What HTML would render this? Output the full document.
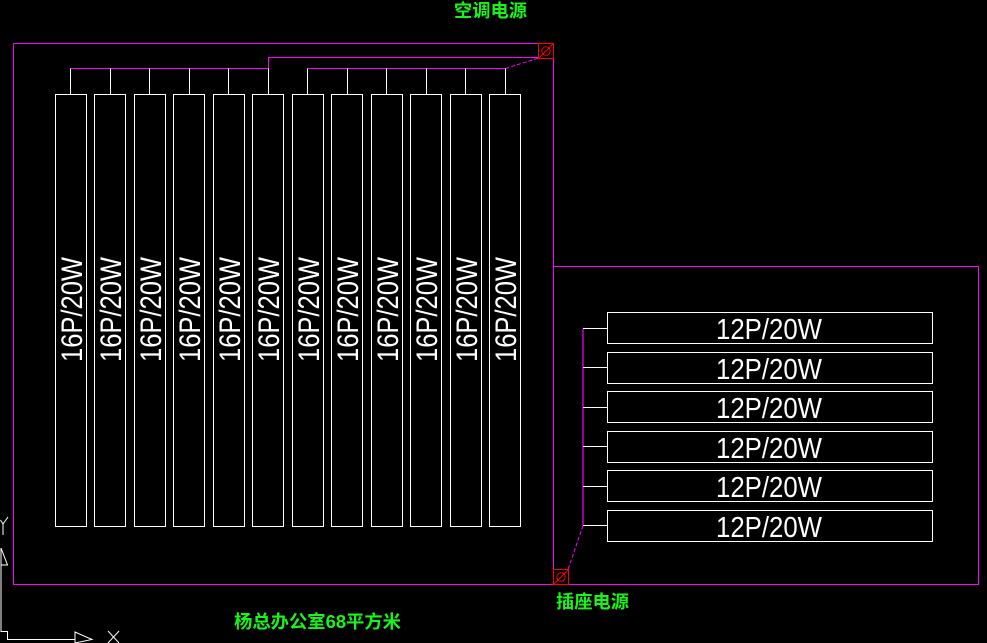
<!DOCTYPE html>
<html><head><meta charset="utf-8"><style>
html,body{margin:0;padding:0;background:#000;width:987px;height:643px;overflow:hidden}
svg{display:block}
</style></head><body>
<svg width="987" height="643" viewBox="0 0 987 643" xmlns="http://www.w3.org/2000/svg">
<rect width="987" height="643" fill="#000"/>
<g fill="none" stroke="#ff00ff" stroke-width="1">
<rect x="13.5" y="43.5" width="540" height="541"/>
<polyline points="553.5,266.5 978.5,266.5 978.5,584.5 553.5,584.5"/>
<polyline points="70.5,68.5 268.5,68.5 268.5,57.5 538.5,57.5"/>
<line x1="307.5" y1="68.5" x2="505.5" y2="68.5"/>
<line x1="505.5" y1="68.5" x2="538.5" y2="58" stroke-dasharray="4,2"/>
<line x1="583" y1="328.5" x2="583" y2="525.5" stroke-width="1.2"/>
<line x1="583" y1="525.5" x2="568" y2="569.5" stroke-dasharray="4,2"/>
</g>
<g fill="none" stroke="#ff0000" stroke-width="1">
<rect x="538.5" y="43.5" width="15" height="15"/>
<circle cx="546" cy="51" r="4.2"/>
<line x1="539" y1="58" x2="553" y2="44"/>
<rect x="553.5" y="569.5" width="15" height="15"/>
<circle cx="561" cy="577" r="4.2"/>
<line x1="554" y1="584" x2="568" y2="570"/>
</g>
<g fill="none" stroke="#ffffff" stroke-width="1">
<line x1="70.5" y1="68.5" x2="70.5" y2="94.5"/>
<line x1="110.5" y1="68.5" x2="110.5" y2="94.5"/>
<line x1="149.5" y1="68.5" x2="149.5" y2="94.5"/>
<line x1="189.5" y1="68.5" x2="189.5" y2="94.5"/>
<line x1="228.5" y1="68.5" x2="228.5" y2="94.5"/>
<line x1="268.5" y1="68.5" x2="268.5" y2="94.5"/>
<line x1="307.5" y1="68.5" x2="307.5" y2="94.5"/>
<line x1="347.5" y1="68.5" x2="347.5" y2="94.5"/>
<line x1="386.5" y1="68.5" x2="386.5" y2="94.5"/>
<line x1="426.5" y1="68.5" x2="426.5" y2="94.5"/>
<line x1="465.5" y1="68.5" x2="465.5" y2="94.5"/>
<line x1="505.5" y1="68.5" x2="505.5" y2="94.5"/>
<rect x="55.5" y="94.5" width="31" height="432"/>
<rect x="94.5" y="94.5" width="31" height="432"/>
<rect x="134.5" y="94.5" width="31" height="432"/>
<rect x="173.5" y="94.5" width="31" height="432"/>
<rect x="213.5" y="94.5" width="31" height="432"/>
<rect x="252.5" y="94.5" width="31" height="432"/>
<rect x="292.5" y="94.5" width="31" height="432"/>
<rect x="331.5" y="94.5" width="31" height="432"/>
<rect x="371.5" y="94.5" width="31" height="432"/>
<rect x="410.5" y="94.5" width="31" height="432"/>
<rect x="450.5" y="94.5" width="31" height="432"/>
<rect x="489.5" y="94.5" width="31" height="432"/>
<rect x="607.5" y="312.5" width="325" height="31"/>
<rect x="607.5" y="352.5" width="325" height="31"/>
<rect x="607.5" y="391.5" width="325" height="31"/>
<rect x="607.5" y="431.5" width="325" height="31"/>
<rect x="607.5" y="470.5" width="325" height="31"/>
<rect x="607.5" y="510.5" width="325" height="31"/>
<line x1="583" y1="328.5" x2="607.5" y2="328.5"/>
<line x1="583" y1="367.5" x2="607.5" y2="367.5"/>
<line x1="583" y1="407.5" x2="607.5" y2="407.5"/>
<line x1="583" y1="446.5" x2="607.5" y2="446.5"/>
<line x1="583" y1="486.5" x2="607.5" y2="486.5"/>
<line x1="583" y1="525.5" x2="607.5" y2="525.5"/>
<!-- UCS icon -->
<polyline points="1,565 1,631.5 7.5,631.5 7.5,639.5 75,639.5"/>
<polygon points="1,548 7.5,565 1,565"/>
<polygon points="75,632 92,639.5 75,643"/>
<polyline points="0.5,520 3,524 8,517"/>
<line x1="3" y1="524" x2="3" y2="535"/>
<line x1="108" y1="631" x2="119" y2="643"/>
<line x1="119" y1="631" x2="108" y2="643"/>
</g>
<g fill="#ffffff" font-family="'Liberation Sans', 'DejaVu Sans', sans-serif" font-size="30">
<text transform="translate(71,309.5) rotate(-90)" y="11" text-anchor="middle" textLength="105" lengthAdjust="spacingAndGlyphs">16P/20W</text>
<text transform="translate(110,309.5) rotate(-90)" y="11" text-anchor="middle" textLength="105" lengthAdjust="spacingAndGlyphs">16P/20W</text>
<text transform="translate(150,309.5) rotate(-90)" y="11" text-anchor="middle" textLength="105" lengthAdjust="spacingAndGlyphs">16P/20W</text>
<text transform="translate(189,309.5) rotate(-90)" y="11" text-anchor="middle" textLength="105" lengthAdjust="spacingAndGlyphs">16P/20W</text>
<text transform="translate(229,309.5) rotate(-90)" y="11" text-anchor="middle" textLength="105" lengthAdjust="spacingAndGlyphs">16P/20W</text>
<text transform="translate(268,309.5) rotate(-90)" y="11" text-anchor="middle" textLength="105" lengthAdjust="spacingAndGlyphs">16P/20W</text>
<text transform="translate(308,309.5) rotate(-90)" y="11" text-anchor="middle" textLength="105" lengthAdjust="spacingAndGlyphs">16P/20W</text>
<text transform="translate(347,309.5) rotate(-90)" y="11" text-anchor="middle" textLength="105" lengthAdjust="spacingAndGlyphs">16P/20W</text>
<text transform="translate(387,309.5) rotate(-90)" y="11" text-anchor="middle" textLength="105" lengthAdjust="spacingAndGlyphs">16P/20W</text>
<text transform="translate(426,309.5) rotate(-90)" y="11" text-anchor="middle" textLength="105" lengthAdjust="spacingAndGlyphs">16P/20W</text>
<text transform="translate(466,309.5) rotate(-90)" y="11" text-anchor="middle" textLength="105" lengthAdjust="spacingAndGlyphs">16P/20W</text>
<text transform="translate(505,309.5) rotate(-90)" y="11" text-anchor="middle" textLength="105" lengthAdjust="spacingAndGlyphs">16P/20W</text>
</g>
<g fill="#ffffff" font-family="'Liberation Sans', 'DejaVu Sans', sans-serif" font-size="29" text-anchor="middle">
<text x="769" y="339" textLength="106" lengthAdjust="spacingAndGlyphs">12P/20W</text>
<text x="769" y="379" textLength="106" lengthAdjust="spacingAndGlyphs">12P/20W</text>
<text x="769" y="418" textLength="106" lengthAdjust="spacingAndGlyphs">12P/20W</text>
<text x="769" y="458" textLength="106" lengthAdjust="spacingAndGlyphs">12P/20W</text>
<text x="769" y="497" textLength="106" lengthAdjust="spacingAndGlyphs">12P/20W</text>
<text x="769" y="537" textLength="106" lengthAdjust="spacingAndGlyphs">12P/20W</text>
</g>
<g fill="#19f519" font-family="'Liberation Sans', 'Noto Sans CJK SC', 'WenQuanYi Zen Hei', sans-serif" font-size="18" font-weight="bold">
<text x="454" y="17" textLength="73" lengthAdjust="spacingAndGlyphs">空调电源</text>
<text x="556" y="608" textLength="73" lengthAdjust="spacingAndGlyphs">插座电源</text>
<text x="234" y="628" textLength="167" lengthAdjust="spacingAndGlyphs">杨总办公室68平方米</text>
</g>
</svg>
</body></html>
